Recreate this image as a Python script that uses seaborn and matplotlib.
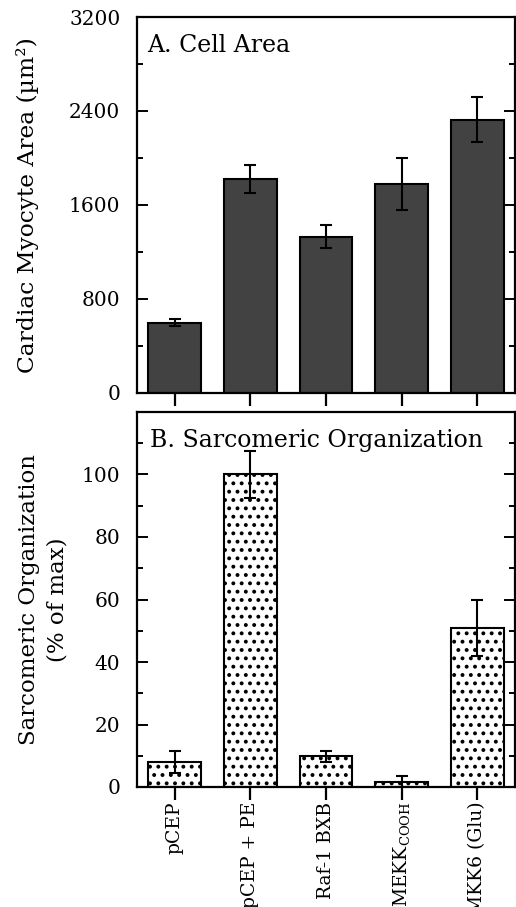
"""Cardiac myocyte area and sarcomeric organization bar charts."""

import matplotlib
matplotlib.use("Agg")
import matplotlib.pyplot as plt
import matplotlib.ticker as mtick
import seaborn as sns

sns.set_theme(style="white")
plt.rcParams['font.family'] = ['DejaVu Serif']
plt.rcParams['mathtext.fontset'] = 'dejavuserif'
plt.rcParams['hatch.linewidth'] = 1.6
for k in ['text.color', 'axes.labelcolor', 'xtick.color', 'ytick.color']:
    plt.rcParams[k] = 'black'

# data
groups = ['pCEP', 'pCEP + PE', 'Raf-1 BXB', r'MEKK$_{\mathrm{COOH}}$', 'MKK6 (Glu)']
area_mean = [600, 1820, 1330, 1780, 2325]
area_err = [30, 120, 100, 220, 190]
sarc_mean = [8, 100, 9.8, 1.7, 51]
sarc_err = [3.5, 7.5, 1.7, 1.8, 9]

FS = 14.5
W, H = 516, 907
fig = plt.figure(figsize=(W / 100, H / 100), dpi=100)
ax1 = fig.add_axes([137 / W, (H - 393) / H, 378 / W, 376 / H])
ax2 = fig.add_axes([137 / W, (H - 787) / H, 378 / W, 375 / H])


def style(ax):
    for s in ax.spines.values():
        s.set_linewidth(1.6)
        s.set_color('black')
    ax.tick_params(axis='y', which='both', direction='in', left=True, right=True,
                   width=1.4, labelsize=FS, pad=12)
    ax.tick_params(axis='y', which='major', length=8)
    ax.tick_params(axis='y', which='minor', length=4)
    ax.tick_params(axis='x', direction='out', bottom=True, length=9, width=1.6,
                   labelsize=FS - 1, pad=1.5)
    ax.set_xlim(-0.5, 4.5)


# panel A
sns.barplot(x=groups, y=area_mean, color='#424242', saturation=1, width=0.7,
            edgecolor='black', linewidth=1.5, errorbar=None, ax=ax1)
ax1.errorbar(range(len(groups)), area_mean, yerr=area_err, fmt='none',
             ecolor='black', elinewidth=1.5, capsize=4.5, capthick=1.5)
style(ax1)
ax1.set_ylim(0, 3200)
ax1.yaxis.set_major_locator(mtick.MultipleLocator(800))
ax1.yaxis.set_minor_locator(mtick.MultipleLocator(400))
ax1.set_xticklabels([])
ax1.set_ylabel('Cardiac Myocyte Area (µm²)', fontsize=FS + 2.3)
ax1.yaxis.set_label_coords(-0.26, 0.5)
ax1.text(0.027, 0.955, 'A. Cell Area', transform=ax1.transAxes, fontsize=FS + 2.5,
         ha='left', va='top')

# panel B
sns.barplot(x=groups, y=sarc_mean, color='white', saturation=1, width=0.7,
            edgecolor='black', linewidth=1.5, hatch='..', errorbar=None, ax=ax2)
ax2.errorbar(range(len(groups)), sarc_mean, yerr=sarc_err, fmt='none',
             ecolor='black', elinewidth=1.5, capsize=4.5, capthick=1.5)
style(ax2)
ax2.set_ylim(0, 120)
ax2.set_yticks([0, 20, 40, 60, 80, 100])
ax2.yaxis.set_minor_locator(mtick.FixedLocator([10, 30, 50, 70, 90, 110]))
ax2.tick_params(axis='x', labelrotation=90)
ax2.set_ylabel('Sarcomeric Organization\n(% of max)', fontsize=FS + 2,
               linespacing=1.4)
ax2.yaxis.set_label_coords(-0.18, 0.5)
ax2.text(0.035, 0.955, 'B. Sarcomeric Organization', transform=ax2.transAxes,
         fontsize=FS + 2.5, ha='left', va='top')

fig.savefig('out.png', dpi=100)
